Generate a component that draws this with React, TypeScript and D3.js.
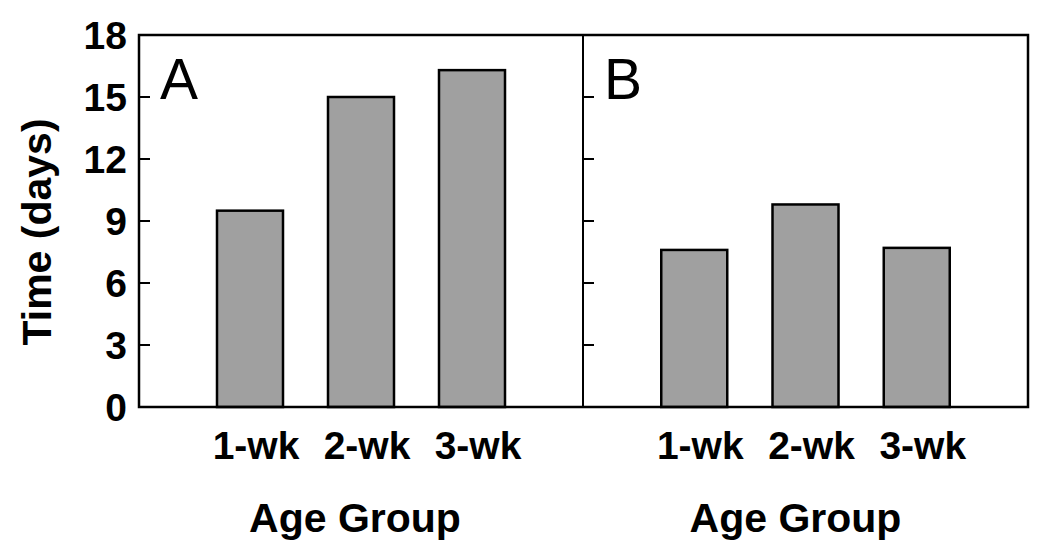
import React from "react";
import * as d3 from "d3";

const categories = ["1-wk", "2-wk", "3-wk"];
const panelA = [9.5, 15.0, 16.3];
const panelB = [7.6, 9.8, 7.7];
const panelLabels = ["A", "B"];
const yTicks = [0, 3, 6, 9, 12, 15, 18];
const xTitle = "Age Group";
const yTitle = "Time (days)";

const W = 1050;
const H = 554;
const top = 35;
const bottom = 407;
const left = 139;
const mid = 583;
const right = 1028;
const font = "'Liberation Sans', Arial, sans-serif";

export default function App() {
  const y = d3.scaleLinear().domain([0, 18]).range([bottom, top]);
  const panels = [
    { x0: left, x1: mid, data: panelA, label: panelLabels[0], titleDx: -6 },
    { x0: mid, x1: right, data: panelB, label: panelLabels[1], titleDx: -10 },
  ];
  const barW = 66;
  return (
    <svg width={W} height={H} style={{ position: "absolute", left: 0, top: 0, background: "#fff" }}>
      {panels.map((p, pi) => {
        const x = d3.scalePoint<string>().domain(categories).range([p.x0, p.x1]).padding(1);
        return (
          <g key={pi}>
            {p.data.map((v, i) => (
              <rect
                key={i}
                x={(x(categories[i]) as number) - barW / 2}
                y={y(v)}
                width={barW}
                height={y(0) - y(v)}
                fill="#a0a0a0"
                stroke="#000"
                strokeWidth={2.5}
              />
            ))}
            {yTicks.map((t) => (
              <line key={t} x1={p.x0} x2={p.x0 + 11} y1={y(t)} y2={y(t)} stroke="#000" strokeWidth={2} />
            ))}
            {categories.map((c) => (
              <text
                key={c}
                x={(x(c) as number) + 6}
                y={459}
                textAnchor="middle"
                fontFamily={font}
                fontWeight="bold"
                fontSize={39}
                fill="#000"
              >
                {c}
              </text>
            ))}
            <text
              x={(p.x0 + p.x1) / 2 + p.titleDx}
              y={532}
              textAnchor="middle"
              fontFamily={font}
              fontWeight="bold"
              fontSize={41}
              fill="#000"
            >
              {xTitle}
            </text>
            <text x={p.x0 + 21} y={99} fontFamily={font} fontSize={57} fill="#000">
              {p.label}
            </text>
          </g>
        );
      })}
      <rect x={left} y={top} width={right - left} height={bottom - top} fill="none" stroke="#000" strokeWidth={2.5} />
      <line x1={mid} x2={mid} y1={top} y2={bottom} stroke="#000" strokeWidth={2} />
      {yTicks.map((t) => (
        <text
          key={t}
          x={127}
          y={y(t)}
          dy="0.36em"
          textAnchor="end"
          fontFamily={font}
          fontWeight="bold"
          fontSize={39}
          fill="#000"
        >
          {t}
        </text>
      ))}
      <text
        transform={`translate(51, 232) rotate(-90)`}
        textAnchor="middle"
        fontFamily={font}
        fontWeight="bold"
        fontSize={41}
        fill="#000"
      >
        {yTitle}
      </text>
    </svg>
  );
}
